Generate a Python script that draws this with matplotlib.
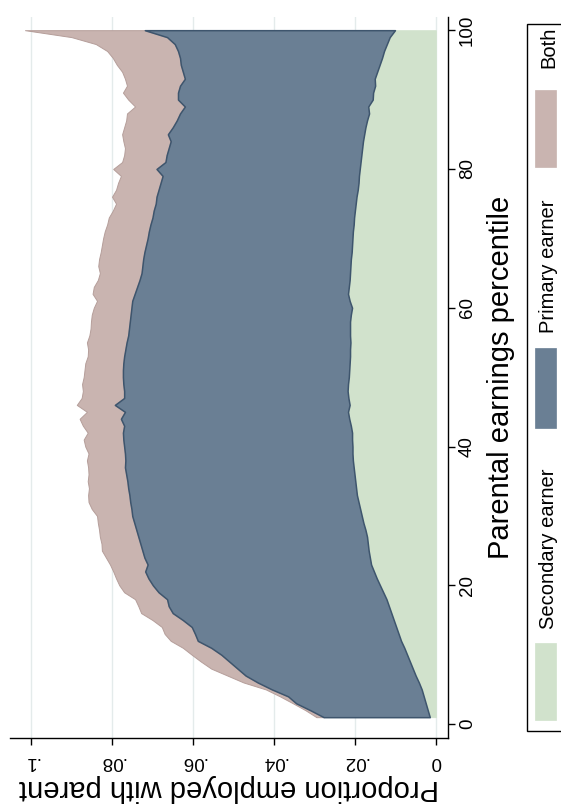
import matplotlib
matplotlib.use("Agg")
import matplotlib.pyplot as plt
from matplotlib.patches import Rectangle
import numpy as np

plt.rcParams['font.family'] = ['Liberation Sans', 'DejaVu Sans']

percentile = list(range(1, 101))

# cumulative boundary: secondary earner
share_secondary = [
    .0015, .0020, .0025, .0030, .0035, .0042, .0050, .0057, .0064, .0071,
    .0078, .0086, .0092, .0098, .0104, .0110, .0116, .0122, .0130, .0138,
    .0146, .0153, .0160, .0163, .0166, .0168, .0170, .0174, .0179, .0183,
    .0187, .0191, .0195, .0197, .0199, .0201, .0203, .0205, .0206, .0206,
    .0207, .0207, .0210, .0214, .0217, .0213, .0216, .0218, .0217, .0215,
    .0214, .0213, .0212, .0212, .0211, .0212, .0212, .0212, .0210, .0207,
    .0213, .0217, .0215, .0213, .0212, .0211, .0210, .0208, .0207, .0206,
    .0205, .0203, .0202, .0200, .0198, .0196, .0193, .0191, .0190, .0188,
    .0186, .0184, .0182, .0180, .0177, .0174, .0170, .0165, .0167, .0156,
    .0155, .0150, .0151, .0145, .0139, .0133, .0128, .0121, .0114, .0101,
]

# cumulative boundary: secondary + primary earner
share_sec_primary = [
    .0277, .0310, .0345, .0365, .0405, .0440, .0470, .0490, .0510, .0530,
    .0555, .0588, .0595, .0603, .0625, .0650, .0660, .0664, .0685, .0699,
    .0710, .0718, .0712, .0720, .0725, .0730, .0735, .0740, .0745, .0750,
    .0752, .0755, .0757, .0760, .0762, .0765, .0768, .0767, .0768, .0770,
    .0772, .0773, .0770, .0778, .0768, .0793, .0770, .0770, .0772, .0773,
    .0773, .0772, .0770, .0767, .0764, .0760, .0758, .0756, .0754, .0752,
    .0750, .0744, .0738, .0732, .0727, .0725, .0723, .0720, .0716, .0712,
    .0709, .0705, .0700, .0697, .0692, .0690, .0685, .0680, .0675, .0690,
    .0668, .0665, .0660, .0655, .0662, .0650, .0640, .0632, .0620, .0637,
    .0637, .0632, .0620, .0625, .0630, .0632, .0637, .0645, .0664, .0719,
]

# cumulative boundary: all (secondary + primary + both)
share_total = [
    .0295, .0322, .0353, .0385, .0420, .0475, .0515, .0555, .0580, .0603,
    .0625, .0655, .0670, .0677, .0700, .0728, .0735, .0743, .0770, .0782,
    .0790, .0797, .0805, .0815, .0825, .0826, .0830, .0832, .0835, .0837,
    .0850, .0858, .0859, .0857, .0860, .0858, .0859, .0862, .0858, .0866,
    .0870, .0860, .0872, .0880, .0862, .0887, .0875, .0872, .0874, .0870,
    .0868, .0866, .0860, .0859, .0862, .0856, .0853, .0852, .0850, .0845,
    .0837, .0848, .0845, .0835, .0830, .0834, .0832, .0828, .0825, .0822,
    .0818, .0812, .0808, .0798, .0790, .0800, .0790, .0785, .0778, .0797,
    .0775, .0770, .0768, .0772, .0775, .0770, .0765, .0763, .0743, .0760,
    .0773, .0763, .0768, .0775, .0788, .0798, .0812, .0840, .0900, .1015,
]

prop_ticks = [0, .02, .04, .06, .08, .1]
prop_ticklabels = ["0", ".02", ".04", ".06", ".08", ".1"]
pct_ticks = [0, 20, 40, 60, 80, 100]
legend_labels = ["Secondary earner", "Primary earner", "Both"]

c_green = "#D1E2CC"
c_blue = "#6A7F94"
c_pink = "#C9B4B0"
c_navy = "#3E556D"
c_pink_edge = "#B59E9A"
c_grid = "#E4EBEB"

W, H = 561, 805
fig = plt.figure(figsize=(W / 100, H / 100), dpi=100)

def fx(px):
    return px / W

def fy(py):
    return 1 - py / H

ax = fig.add_axes([fx(10), fy(738), fx(448) - fx(10), fy(17) - fy(738)])

p = np.array(percentile)
s = np.array(share_secondary)
sp = np.array(share_sec_primary)
tot = np.array(share_total)

ax.fill_betweenx(p, 0, s, color=c_green, lw=0.6, edgecolor=c_green, zorder=2)
ax.fill_betweenx(p, sp, tot, facecolor=c_pink, edgecolor=c_pink_edge, lw=0.7, zorder=2)
ax.fill_betweenx(p, s, sp, facecolor=c_blue, edgecolor=c_navy, lw=1.1, zorder=3)

ax.set_xlim(0.1052, -0.003)
ax.set_ylim(-2.0, 101.9)

ax.set_xticks(prop_ticks)
ax.set_xticklabels(prop_ticklabels)
ax.set_yticks(pct_ticks)
ax.grid(axis='x', color=c_grid, lw=1.0, zorder=0)
ax.set_axisbelow(True)

for sp_name in ['top', 'left']:
    ax.spines[sp_name].set_visible(False)
ax.spines['bottom'].set_linewidth(1.0)
ax.spines['right'].set_linewidth(1.0)

ax.yaxis.tick_right()
ax.yaxis.set_label_position('right')
ax.tick_params(axis='x', direction='out', length=5, width=1, labelsize=13.5,
               labelrotation=180, pad=6)
ax.tick_params(axis='y', direction='out', length=5, width=1, labelsize=13.5,
               labelrotation=90, pad=3)
for lab in ax.get_yticklabels():
    lab.set_va('center')

ax.set_xlabel("Proportion employed with parent", fontsize=21, rotation=180, labelpad=3)
ax.set_ylabel("Parental earnings percentile", fontsize=21, rotation=90, labelpad=8)

# legend (rotated)
fig.patches.append(Rectangle((fx(527), fy(731)), fx(580) - fx(527), fy(24) - fy(731),
                             transform=fig.transFigure, facecolor='white',
                             edgecolor='black', lw=1.0, zorder=1))
sw_x0, sw_x1 = 535, 556
swatches = [(643, 720, c_green), (348, 428, c_blue), (90, 167, c_pink)]
text_centers = [549, 266, 47]
for (y0, y1, col), tc, lab in zip(swatches, text_centers, legend_labels):
    fig.patches.append(Rectangle((fx(sw_x0), fy(y1)), fx(sw_x1) - fx(sw_x0), fy(y0) - fy(y1),
                                 transform=fig.transFigure, facecolor=col,
                                 edgecolor=col, lw=0.5, zorder=2))
    fig.text(fx(549), fy(tc), lab, rotation=90, ha='center', va='center',
             fontsize=14.5, zorder=3)

fig.savefig("out.png", dpi=100)
